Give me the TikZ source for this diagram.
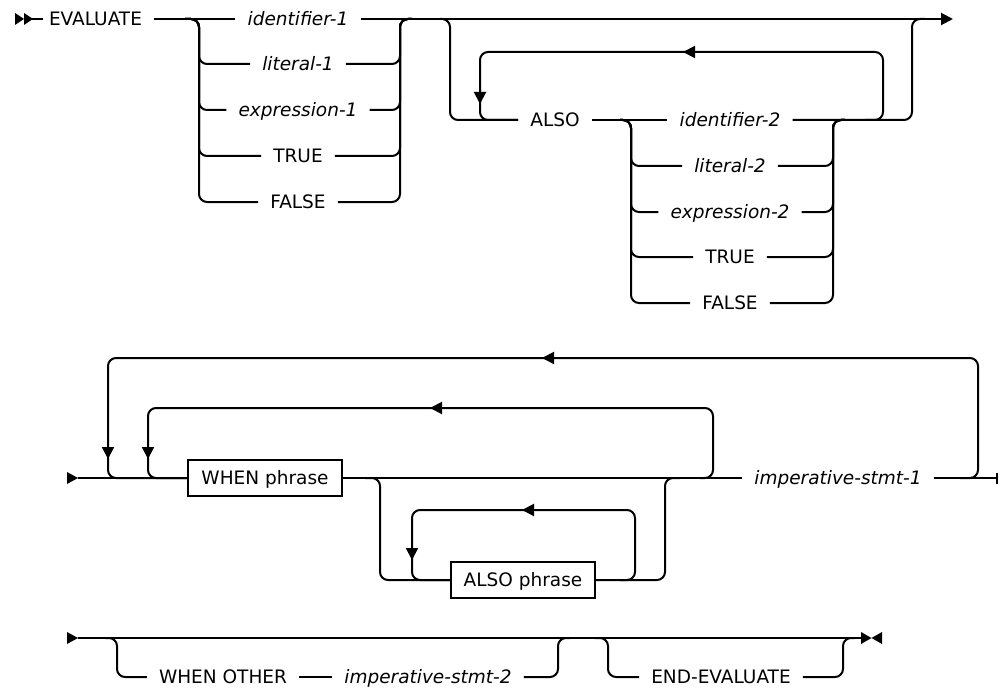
\documentclass[tikz,border=0pt]{standalone}
\usepackage{fontspec}
\setmainfont{DejaVu Sans}
\usetikzlibrary{arrows.meta}

\begin{document}
\begin{tikzpicture}[x=1pt, y=-1pt, >={Triangle[length=12pt,width=12pt]},
	rail/.style={line width=2pt, rounded corners=8pt},
	kw/.style={font=\fontsize{18.5}{22}\selectfont, text height=13.5pt, text depth=0pt, inner xsep=12pt, inner ysep=0pt},
	var/.style={kw, font=\fontsize{18.5}{22}\selectfont\itshape},
	phrase/.style={draw, line width=1.6pt, font=\fontsize{18.5}{22}\selectfont, text height=13.5pt, text depth=0pt, inner sep=0pt, minimum height=36pt}]
	\useasboundingbox (0,0) rectangle (999,690);
	% first line: EVALUATE subject ALSO subject
	\fill (15,13) -- (24,19) -- (15,25) -- cycle;
	\fill (24,13) -- (33,19) -- (24,25) -- cycle;
	\draw[rail] (24,19) -- (43,19);
	\node[kw] (evaluate) at (95.5,19) {EVALUATE};
	\node[var] (ident1) at (298,19) {identifier-1};
	\node[var] (lit1) at (298,64) {literal-1};
	\node[var] (expr1) at (298,110) {expression-1};
	\node[kw] (true1) at (298,156) {TRUE};
	\node[kw] (false1) at (298,202) {FALSE};
	\draw[rail] (evaluate.east) -- (ident1.west);
	\draw[rail, ->] (ident1.east) -- (953,19);
	\foreach \n/\y in {lit1/64, expr1/110, true1/156, false1/202} {
		\draw[rail] (185,19) -| (199,\y) -- (\n.west);
		\draw[rail] (\n.east) -| (400,19) -- (412,19);
	}
	\node[kw] (also) at (555,120) {ALSO};
	\node[var] (ident2) at (730,120) {identifier-2};
	\node[var] (lit2) at (730,166) {literal-2};
	\node[var] (expr2) at (730,212) {expression-2};
	\node[kw] (true2) at (730,257) {TRUE};
	\node[kw] (false2) at (730,303) {FALSE};
	\draw[rail] (440,19) -| (450,120) -- (also.west);
	\draw[rail] (also.east) -- (ident2.west);
	\draw[rail] (ident2.east) -| (912,19) -- (925,19);
	\foreach \n/\y in {lit2/166, expr2/212, true2/257, false2/303} {
		\draw[rail] (620,120) -| (631,\y) -- (\n.west);
		\draw[rail] (\n.east) -| (833,120) -- (845,120);
	}
	\draw[rail, ->] (865,120) -| (883,52) -- (683,52);
	\draw[rail, ->] (690,52) -| (480,104);
	\draw[rail] (480,95) |- (also.west);
	% second line: WHEN phrases
	\fill (67,472) -- (78,478) -- (67,484) -- cycle;
	\node[phrase, minimum width=154pt] (when) at (265,478) {WHEN phrase};
	\node[phrase, minimum width=144pt] (alsop) at (523,580) {ALSO phrase};
	\node[var] (imp1) at (838,478) {imperative-stmt-1};
	\draw[rail] (78,478) -- (when.west);
	\draw[rail] (when.east) -- (imp1.west);
	\draw[rail, -{Bar[width=11pt]}] (imp1.east) -- (998,478);
	\draw[rail, ->] (960,478) -| (978,358) -- (542,358);
	\draw[rail, ->] (550,358) -| (108,459);
	\draw[rail] (108,450) |- (when.west);
	\draw[rail, ->] (700,478) -| (713,408) -- (430,408);
	\draw[rail, ->] (438,408) -| (148,459);
	\draw[rail] (148,450) |- (when.west);
	\draw[rail] (365,478) -| (380,580) -- (alsop.west);
	\draw[rail] (alsop.east) -| (665,478) -- (680,478);
	\draw[rail, ->] (620,580) -| (635,510) -- (522,510);
	\draw[rail, ->] (530,510) -| (412,560);
	\draw[rail] (412,552) |- (alsop.west);
	% third line: WHEN OTHER and END-EVALUATE
	\fill (67,632) -- (78,638) -- (67,644) -- cycle;
	\draw[rail] (78,638) -- (861,638);
	\fill (861,632) -- (871.5,638) -- (861,644) -- cycle;
	\fill (882,632) -- (871.5,638) -- (882,644) -- cycle;
	\node[kw] (other) at (223,677) {WHEN OTHER};
	\node[var] (imp2) at (428,677) {imperative-stmt-2};
	\node[kw] (endeval) at (721,677) {END-EVALUATE};
	\draw[rail] (105,638) -| (117,677) -- (other.west);
	\draw[rail] (other.east) -- (imp2.west);
	\draw[rail] (imp2.east) -| (558,638) -- (570,638);
	\draw[rail] (595,638) -| (608,677) -- (endeval.west);
	\draw[rail] (endeval.east) -| (843,638) -- (855,638);
\end{tikzpicture}
\end{document}
